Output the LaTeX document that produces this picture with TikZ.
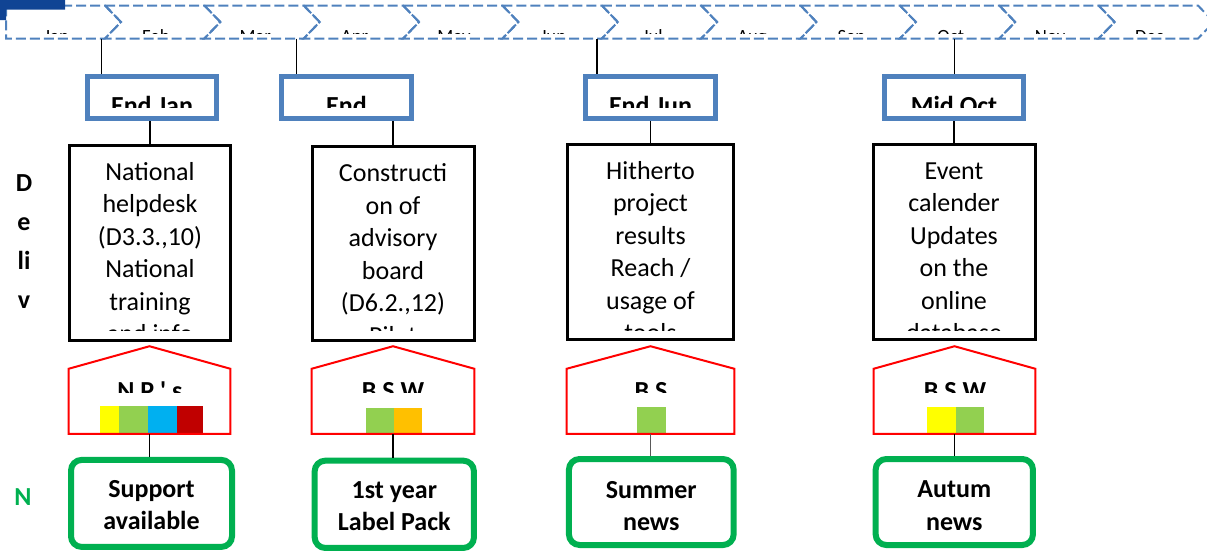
\documentclass[tikz,border=0pt]{standalone}
\usepackage{fontspec}
\setmainfont{Carlito}
\usetikzlibrary{calc}

\definecolor{barblue}{RGB}{79,129,189}
\definecolor{cornerblue}{RGB}{16,68,148}
\definecolor{newsgreen}{RGB}{0,176,80}
\definecolor{housered}{RGB}{255,0,0}
\definecolor{swyellow}{RGB}{255,255,0}
\definecolor{swgreen}{RGB}{146,208,80}
\definecolor{swblue}{RGB}{0,176,240}
\definecolor{swred}{RGB}{192,0,0}
\definecolor{sworange}{RGB}{255,192,0}

\newcommand{\bigtext}{\fontsize{19.5}{24.4}\selectfont}
\newcommand{\monthtext}{\fontsize{14}{16}\selectfont}
\newcommand{\celllines}[1]{\begin{tabular}[t]{@{}c@{}}#1\end{tabular}}

\begin{document}
\begin{tikzpicture}[
            x=0.75pt, y=-0.75pt,
            wh/.style 2 args={
                minimum width=#1*0.75pt,
                minimum height=#2*0.75pt
            },
            month/.style={
                draw=barblue,
                line width=1.5pt,
                dash pattern=on 7.5pt off 3pt
            },
            milestone/.style={
                draw=barblue,
                line width=3.75pt,
                inner sep=0pt
            },
            deliv/.style={
                draw,
                line width=2.25pt,
                inner sep=0pt
            },
            housebody/.style={
                inner sep=0pt
            },
            house/.style={
                draw=housered,
                line width=1.5pt
            },
            news/.style={
                draw=newsgreen,
                line width=4.5pt,
                rounded corners=8pt,
                inner sep=0pt
            },
            link/.style={
                draw,
                line width=0.8pt
            },
            headtext/.style={
                font=\bigtext\bfseries,
                inner sep=0pt,
                anchor=base
            },
            bodytext/.style={
                font=\bigtext,
                inner sep=0pt,
                anchor=base
            }
        ]
            \useasboundingbox (0,0) rectangle (1207,551);

            % month bar
            \foreach \mon [count=\k] in {Jan,Feb,Mar,Apr,May,Jun,Jul,Aug,Sep,Oct,Nov,Dec} {
                \pgfmathsetmacro{\xl}{\k==1 ? 6 : 105+99.36*(\k-2)}
                \pgfmathsetmacro{\xr}{105+99.36*(\k-1)}
                \pgfmathsetmacro{\notch}{\k==1 ? 0 : 16}
                \draw[month] (\xl,5.5) -- (\xr,5.5) -- (\xr+16,22) -- (\xr,38.5)
                    -- (\xl,38.5) -- (\xl+\notch,22) -- cycle;
            }
            \begin{scope}
                \clip (0,5.5) rectangle (1207,33);
                \foreach \mon [count=\k] in {Jan,Feb,Mar,Apr,May,Jun,Jul,Aug,Sep,Oct,Nov,Dec} {
                    \pgfmathsetmacro{\xc}{56.5+99.36*(\k-1)}
                    \node[font=\monthtext, inner sep=0pt, anchor=base] (lab\k) at (\xc,42) {\mon};
                }
            \end{scope}
            \fill[cornerblue] (0,0) -- (65,0) -- (65,9.5) -- (6,9.5) -- (6,20) -- (0,20) -- cycle;

            % milestones
            \node[milestone, wh={129}{42}] (m1) at (152,97.5) {};
            \node[milestone, wh={130}{42}] (m2) at (346.5,97.5) {};
            \node[milestone, wh={130}{42}] (m3) at (650.5,97.5) {};
            \node[milestone, wh={139}{42}] (m4) at (954,97.5) {};
            \begin{scope}
                \clip (80,79) rectangle (1040,107);
                \node[headtext] (mt1) at (152,114) {End Jan};
                \node[headtext] (mt2) at (346.5,114) {End};
                \node[headtext] (mt3) at (650.5,114) {End Jun};
                \node[headtext] (mt4) at (954,114) {Mid Oct};
            \end{scope}

            % deliverables
            \node[deliv, wh={161}{195}] (d1) at (150,243) {};
            \node[deliv, wh={162}{193.5}] (d2) at (393,243.25) {};
            \node[deliv, wh={166}{194.5}] (d3) at (650.5,241.75) {};
            \node[deliv, wh={162}{195}] (d4) at (954,241.5) {};
            \begin{scope}
                \clip (60,150) rectangle (1050,330);
                \node[bodytext] (dt1) at (150,180) {\celllines{National\\helpdesk\\(D3.3.,10)\\National\\training\\and info}};
                \node[bodytext] (dt2) at (393,181.5) {\celllines{Constructi\\on of\\advisory\\board\\(D6.2.,12)\\Pilot}};
                \node[bodytext] (dt3) at (650.5,179) {\celllines{Hitherto\\project\\results\\Reach /\\usage of\\tools}};
                \node[bodytext] (dt4) at (954,179) {\celllines{Event\\calender\\Updates\\on the\\online\\database}};
            \end{scope}

            % partners and their colours
            \fill[swyellow] (100,406) rectangle (119,433);
            \fill[swgreen] (119,406) rectangle (148,433);
            \fill[swblue] (148,406) rectangle (177,433);
            \fill[swred] (177,406) rectangle (203,433);
            \fill[swgreen] (366,407.5) rectangle (394,433);
            \fill[sworange] (394,407.5) rectangle (422,433);
            \fill[swgreen] (637,407) rectangle (666,433);
            \fill[swyellow] (927,406.5) rectangle (956,433);
            \fill[swgreen] (956,406.5) rectangle (984,433);

            \node[housebody, wh={161}{64.5}] (h1) at (149.5,401.25) {};
            \node[housebody, wh={162}{64.5}] (h2) at (393,401.25) {};
            \node[housebody, wh={167}{64.5}] (h3) at (650.5,401.25) {};
            \node[housebody, wh={161}{64.5}] (h4) at (954.5,401.25) {};
            \foreach \h in {h1,h2,h3,h4} {
                \draw[house] (\h.south west) -- (\h.north west) -- ($(\h.north)+(0,-22.5)$)
                    -- (\h.north east) -- (\h.south east) -- cycle;
            }
            \begin{scope}
                \clip (60,375) rectangle (1050,392);
                \node[headtext] (ht1) at (150,399.7) {N P \textquotesingle\ s};
                \node[headtext] (ht2) at (393,399.7) {B S W};
                \node[headtext] (ht3) at (651,399.7) {B S};
                \node[headtext] (ht4) at (955,399.7) {B S W};
            \end{scope}

            % news
            \node[news, wh={161}{87}] (n1) at (151.5,503.4) {};
            \node[news, wh={159.3}{87.3}] (n2) at (394.3,504.3) {};
            \node[news, wh={164.7}{86}] (n3) at (651.3,502) {};
            \node[news, wh={157.3}{86}] (n4) at (954.3,502) {};
            \node[headtext] (nt1) at (151.5,497) {\celllines{Support\\available}};
            \node[headtext] (nt2) at (394.3,498.3) {\celllines{1st year\\Label Pack}};
            \node[headtext] (nt3) at (651.3,498.3) {\celllines{Summer\\news}};
            \node[headtext] (nt4) at (954.3,497.7) {\celllines{Autum\\news}};

            % row labels
            \node[headtext, font=\fontsize{19.5}{29.25}\selectfont\bfseries] (rowd) at (24,191.5) {\celllines{D\\e\\li\\v}};
            \node[headtext, text=newsgreen] (rown) at (23,505) {N};

            % connectors
            \coordinate (t1) at (101.5,38.5);
            \coordinate (t2) at (296.5,38.5);
            \coordinate (t3) at (597,38.5);
            \coordinate (t4) at (954.5,38.5);
            \foreach \i in {1,2,3,4} {
                \draw[link] (t\i) -- (t\i |- m\i.north);
                \draw[link] (d\i.north |- m\i.south) -- (d\i.north);
            }
            \draw[link] (h1.south) -- (h1.south |- n1.north);
            \draw[link] (h2.south) -- (h2.south |- n2.north);
            \draw[link, black!65] (h3.south) -- (h3.south |- n3.north);
            \draw[link] (h4.south) -- (h4.south |- n4.north);
        \end{tikzpicture}
\end{document}
